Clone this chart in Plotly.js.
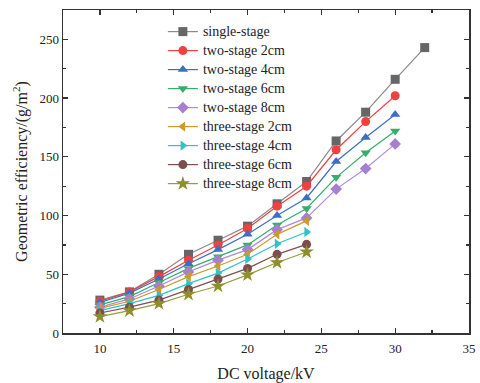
<!DOCTYPE html>
<html>
<head>
<meta charset="utf-8">
<script src="https://cdn.plot.ly/plotly-3.0.1.min.js"></script>
<style>html,body{margin:0;padding:0;background:#fff;}#chart{width:480px;height:383px;}</style>
</head>
<body>
<div id="chart"></div>
<script>
// Data
const voltageLong = [10, 12, 14, 16, 18, 20, 22, 24, 26, 28, 30, 32];
const voltageMid = [10, 12, 14, 16, 18, 20, 22, 24, 26, 28, 30];
const voltageShort = [10, 12, 14, 16, 18, 20, 22, 24];

const singleStage = [28, 35, 50, 67, 79, 91, 110, 129, 163.5, 188, 216, 243];
const twoStage2cm = [27, 35, 48, 62, 75, 89, 108, 125, 156, 180, 202];
const twoStage4cm = [26, 34, 46, 59, 71, 84, 100, 115, 146, 166.5, 186];
const twoStage6cm = [24, 31, 43, 55, 65, 75, 92, 106, 132.5, 153.5, 172];
const twoStage8cm = [22, 29, 40, 52, 62, 71, 88, 98, 122.5, 140, 161];
const threeStage2cm = [21, 27, 37, 48, 57, 67, 84, 95.5];
const threeStage4cm = [19, 25, 32, 42, 51, 63, 76, 86];
const threeStage6cm = [17, 22, 28, 37, 46, 55, 67, 75.5];
const threeStage8cm = [14, 19, 25, 33, 40, 49.5, 60, 69];

const seriesNames = ["single-stage", "two-stage 2cm", "two-stage 4cm", "two-stage 6cm", "two-stage 8cm",
  "three-stage 2cm", "three-stage 4cm", "three-stage 6cm", "three-stage 8cm"];
const xTickVals = [10, 15, 20, 25, 30, 35];
const yTickVals = [0, 50, 100, 150, 200, 250];

const series = [
  {x: voltageLong, y: singleStage, color: "#666666", line: "#8a8a8a", symbol: "square"},
  {x: voltageMid, y: twoStage2cm, color: "#f14040", line: "#f14040", symbol: "circle"},
  {x: voltageMid, y: twoStage4cm, color: "#3a6fc4", line: "#3a6fc4", symbol: "triangle-up"},
  {x: voltageMid, y: twoStage6cm, color: "#37ad6b", line: "#37ad6b", symbol: "triangle-down"},
  {x: voltageMid, y: twoStage8cm, color: "#a67fcf", line: "#b38ad8", symbol: "diamond"},
  {x: voltageShort, y: threeStage2cm, color: "#cc9a2a", line: "#cc9a2a", symbol: "triangle-left"},
  {x: voltageShort, y: threeStage4cm, color: "#2fc2c8", line: "#2fc2c8", symbol: "triangle-right"},
  {x: voltageShort, y: threeStage6cm, color: "#7d4e4e", line: "#7d4e4e", symbol: "circle"},
  {x: voltageShort, y: threeStage8cm, color: "#8e8e2a", line: "#9a9a40", symbol: "star"}
];

const traces = series.map((s, i) => ({
  type: "scatter",
  mode: "lines+markers",
  name: "<span style=\"font-size:14px\">" + seriesNames[i] + "</span>",
  x: s.x,
  y: s.y,
  line: {color: s.line, width: 1.2},
  marker: {color: s.color, symbol: s.symbol, size: (s.symbol === "star" ? 11 : 9), line: {width: 0}}
}));

const axisCommon = {
  showline: true, linecolor: "#333", linewidth: 1.5, mirror: "ticks",
  ticks: "inside", ticklen: 5, tickwidth: 1.2, tickcolor: "#333",
  showgrid: false, zeroline: false,
  tickfont: {family: "Liberation Serif", size: 13, color: "#222"},
  minor: {ticks: "inside", ticklen: 3, tickwidth: 1.2, tickcolor: "#333", showgrid: false}
};

const layout = {
  width: 480, height: 383,
  margin: {l: 63, r: 11, t: 10, b: 50},
  paper_bgcolor: "#fff", plot_bgcolor: "#fff",
  showlegend: true,
  legend: {x: 0.246, y: 0.978, xanchor: "left", yanchor: "top",
    font: {family: "Liberation Serif", size: 11, color: "#222"},
    bgcolor: "rgba(0,0,0,0)", tracegroupgap: 0},
  xaxis: Object.assign({}, axisCommon, {
    range: [7.5, 35], tickvals: xTickVals, ticktext: xTickVals.map(String),
    ticklabelstandoff: 3,
    minor: Object.assign({}, axisCommon.minor, {dtick: 2.5, tick0: 7.5}),
    title: {text: "DC voltage/kV", font: {family: "Liberation Serif", size: 16, color: "#222"}, standoff: 12}
  }),
  yaxis: Object.assign({}, axisCommon, {
    range: [0, 275], tickvals: yTickVals, ticktext: yTickVals.map(String),
    minor: Object.assign({}, axisCommon.minor, {dtick: 25, tick0: 0}),
    title: {text: "Geometric efficiency/(g/m<sup>2</sup>)", font: {family: "Liberation Serif", size: 16, color: "#222"}, standoff: 8}
  })
};

Plotly.newPlot("chart", traces, layout, {staticPlot: true, displayModeBar: false});
</script>
</body>
</html>
